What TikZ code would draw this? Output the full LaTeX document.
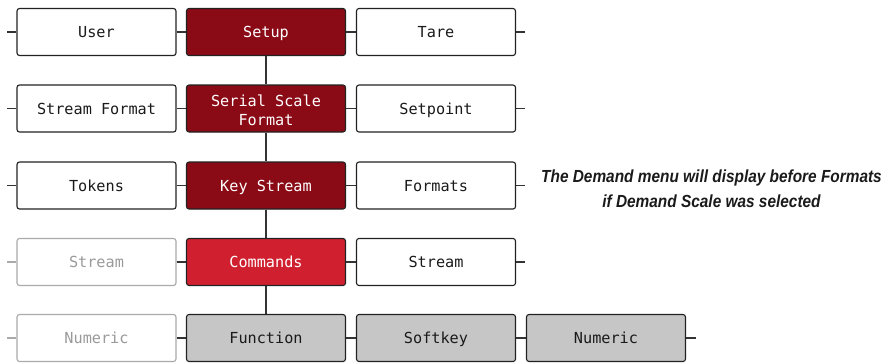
\documentclass[tikz,border=0pt]{standalone}
\usepackage{fontspec}
\newfontfamily\monof{DejaVu Sans Mono}
\newfontfamily\notef{Liberation Sans}[FakeStretch=0.88]
\definecolor{darkred}{HTML}{8A0A16}
\definecolor{cmdred}{HTML}{D02030}
\definecolor{boxgray}{HTML}{C6C6C6}
\definecolor{lineclr}{HTML}{333333}
\definecolor{boxline}{HTML}{222222}
\definecolor{fadeline}{HTML}{AAAAAA}
\definecolor{fadetext}{HTML}{9A9A9A}
\definecolor{textdark}{HTML}{1A1A1A}
\begin{document}
\begin{tikzpicture}[x=1bp,y=-1bp,
  basebox/.style={draw=boxline, line width=1.1bp, rounded corners=2.5bp,
    minimum width=159bp, minimum height=47bp, inner sep=0pt, align=center,
    font=\monof\fontsize{15.2bp}{19bp}\selectfont, text=textdark, fill=white},
  box/.style={basebox, text height=11bp, text depth=0pt},
  redbox/.style={box, fill=darkred, text=white},
  cmdbox/.style={box, fill=cmdred, text=white},
  graybox/.style={box, fill=boxgray},
  fadebox/.style={box, draw=fadeline, text=fadetext},
  conn/.style={draw=lineclr, line width=1.1bp},
  fadeconn/.style={draw=fadeline, line width=1.1bp},
  note/.style={font=\notef\bfseries\itshape\fontsize{17.5bp}{25bp}\selectfont, align=center, text=textdark, inner sep=0pt}]
\useasboundingbox (0,0) rectangle (883,362);
% row 1
\node[box]    (user)  at (96.5,32) {User};
\node[redbox] (setup) at (266,32) {Setup};
\node[box]    (tare)  at (436,32) {Tare};
% row 2
\node[box]    (sfmt)  at (96.5,108.5) {Stream Format};
\node[basebox, fill=darkred, text=white] (ssf) at (266,108.5) {\rule{0pt}{15.5bp}Serial Scale\\Format};
\node[box]    (setp)  at (436,108.5) {Setpoint};
% row 3
\node[box]    (tok)   at (96.5,185.5) {Tokens};
\node[redbox] (kst)   at (266,185.5) {Key Stream};
\node[box]    (fmts)  at (436,185.5) {Formats};
% row 4
\node[fadebox](fstr)  at (96.5,262) {Stream};
\node[cmdbox] (cmd)   at (266,262) {Commands};
\node[box]    (str)   at (436,262) {Stream};
% row 5
\node[fadebox](fnum)  at (96.5,338) {Numeric};
\node[graybox](func)  at (266,338) {Function};
\node[graybox](soft)  at (436,338) {Softkey};
\node[graybox](num)   at (606,338) {Numeric};
% note
\node[note] (note) at (711.5,189) {The Demand menu will display before Formats\\if Demand Scale was selected};
% stub end points
\coordinate (uL) at (7,32);   \coordinate (tR) at (525,32);
\coordinate (sL) at (7,108.5); \coordinate (pR) at (525,108.5);
\coordinate (kL) at (7,185.5); \coordinate (fR) at (525,185.5);
\coordinate (rL) at (7,262);  \coordinate (sR) at (525,262);
\coordinate (nL) at (7,338);  \coordinate (nR) at (696,338);
% stubs
\draw[conn] (uL) -- (user.west);  \draw[conn] (tare.east) -- (tR);
\draw[conn] (sL) -- (sfmt.west);  \draw[conn] (setp.east) -- (pR);
\draw[conn] (kL) -- (tok.west);   \draw[conn] (fmts.east) -- (fR);
\draw[fadeconn] (rL) -- (fstr.west); \draw[conn] (str.east) -- (sR);
\draw[fadeconn] (nL) -- (fnum.west); \draw[conn] (num.east) -- (nR);
% horizontal links
\draw[conn] (user.east) -- (setup.west); \draw[conn] (setup.east) -- (tare.west);
\draw[conn] (sfmt.east) -- (ssf.west);   \draw[conn] (ssf.east) -- (setp.west);
\draw[conn] (tok.east) -- (kst.west);    \draw[conn] (kst.east) -- (fmts.west);
\draw[conn] (fstr.east) -- (cmd.west);   \draw[conn] (cmd.east) -- (str.west);
\draw[conn] (fnum.east) -- (func.west);  \draw[conn] (func.east) -- (soft.west);
\draw[conn] (soft.east) -- (num.west);
% vertical spine
\draw[conn] (setup.south) -- (ssf.north);
\draw[conn] (ssf.south) -- (kst.north);
\draw[conn] (kst.south) -- (cmd.north);
\draw[conn] (cmd.south) -- (func.north);
\end{tikzpicture}
\end{document}
